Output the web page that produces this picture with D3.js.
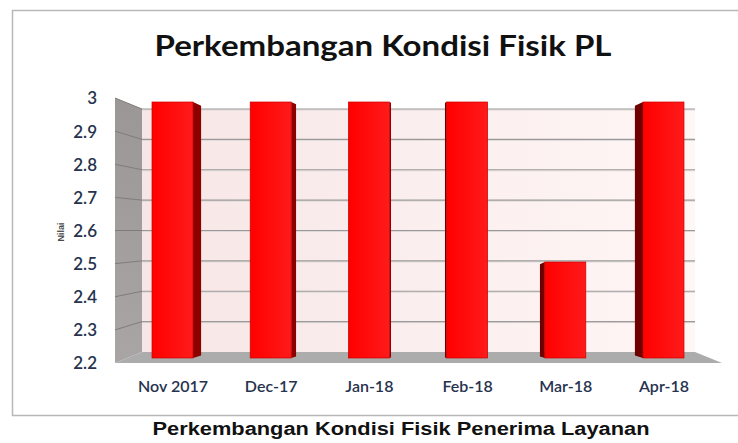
<!DOCTYPE html>
<html><head><meta charset="utf-8">
<script src="https://cdn.jsdelivr.net/npm/d3@7"></script>
<style>body{margin:0;background:#fff}svg{display:block}</style>
</head><body>
<svg id="c" width="738" height="443"></svg>
<script>
const categories = ["Nov 2017","Dec-17","Jan-18","Feb-18","Mar-18","Apr-18"];
const values = [3,3,3,3,2.5,3];
const yTicks = [2.2,2.3,2.4,2.5,2.6,2.7,2.8,2.9,3];
const tickLabels = ["2.2","2.3","2.4","2.5","2.6","2.7","2.8","2.9","3"];
const title = "Perkembangan Kondisi Fisik PL";
const yTitle = "Nilai";
const caption = "Perkembangan Kondisi Fisik Penerima Layanan";

const svg = d3.select("#c");
const defs = svg.append("defs");
const gWall = defs.append("linearGradient").attr("id","wall").attr("x1",0).attr("x2",1).attr("y1",0).attr("y2",0);
gWall.append("stop").attr("offset",0).attr("stop-color","#f7e6e6");
gWall.append("stop").attr("offset",1).attr("stop-color","#fff6f6");
const gLeft = defs.append("linearGradient").attr("id","left").attr("x1",0).attr("x2",0).attr("y1",0).attr("y2",1);
gLeft.append("stop").attr("offset",0).attr("stop-color","#9b9797");
gLeft.append("stop").attr("offset",1).attr("stop-color","#a9a5a5");
const gBar = defs.append("linearGradient").attr("id","bar").attr("x1",0).attr("x2",1).attr("y1",0).attr("y2",0);
gBar.append("stop").attr("offset",0).attr("stop-color","#ff0000");
gBar.append("stop").attr("offset",1).attr("stop-color","#ff1a1a");

// frame
svg.append("path").attr("d","M738,10.5 H12.5 V415.5 H738").attr("fill","none").attr("stroke","#b8b8b8").attr("stroke-width",1.5);

// geometry
const frontL = 115, backL = 142, backR = 695, frontR = 722;
const yFront = d3.scaleLinear().domain([2.2,3]).range([363,98]);
const yBack  = d3.scaleLinear().domain([2.2,3]).range([352,109]);
const yBar   = d3.scaleLinear().domain([2.2,3]).range([358,102]);
const x = d3.scalePoint().domain(categories).range([172.5,663.5]);
const barW = 41, vanish = 418, depthK = 0.033;

// back wall
svg.append("rect").attr("x",backL).attr("y",yBack(3)).attr("width",backR-backL).attr("height",yBack(2.2)-yBack(3)).attr("fill","url(#wall)");
// left wall
svg.append("polygon").attr("points",[[frontL,yFront(3)],[backL,yBack(3)],[backL,yBack(2.2)],[frontL,yFront(2.2)]].join(" ")).attr("fill","url(#left)");
// floor
svg.append("polygon").attr("points",[[frontL,yFront(2.2)],[backL,yBack(2.2)],[backR,yBack(2.2)],[frontR,yFront(2.2)]].join(" ")).attr("fill","#acacac");

// gridlines
const grid = svg.append("g");
yTicks.forEach(v=>{
  if (v===2.2) return;
  grid.append("line").attr("x1",backL).attr("x2",backR).attr("y1",yBack(v)+1).attr("y2",yBack(v)+1).attr("stroke","#e0d8d8").attr("stroke-width",1);
  grid.append("line").attr("x1",backL).attr("x2",backR).attr("y1",yBack(v)).attr("y2",yBack(v)).attr("stroke","#9a9a9a").attr("stroke-width",1.2);
  grid.append("line").attr("x1",frontL).attr("x2",backL).attr("y1",yFront(v)).attr("y2",yBack(v)).attr("stroke","#807c7c").attr("stroke-width",1);
});

// bars
const bars = svg.append("g");
categories.forEach((c,i)=>{
  const cx = x(c), x0 = cx-barW/2, x1 = cx+barW/2;
  const top = yBar(values[i]), bot = yBar(2.2);
  const side = (vanish-cx)*depthK;
  if (side>0.8) {
    bars.append("polygon").attr("points",[[x1,top],[x1+side,top+side*0.45],[x1+side,bot-side*0.3],[x1,bot]].join(" ")).attr("fill","#8c0000");
  } else if (side<-0.8) {
    bars.append("polygon").attr("points",[[x0,top],[x0+side,top-side*0.45],[x0+side,bot+side*0.3],[x0,bot]].join(" ")).attr("fill","#6e0000");
  }
  bars.append("rect").attr("x",x0).attr("y",top).attr("width",barW).attr("height",bot-top).attr("fill","url(#bar)").attr("stroke","#c80000").attr("stroke-width",0.7);
});

// y tick labels
const yAxis = d3.axisLeft(yFront).tickValues(yTicks).tickFormat((d,i)=>tickLabels[i]).tickSize(0).tickPadding(0);
const ya = svg.append("g").attr("transform","translate(97,0)").call(yAxis);
ya.select(".domain").remove();
ya.selectAll("text").attr("font-family","Lato, 'Open Sans', sans-serif").attr("font-size",17).attr("font-weight",600).attr("fill","#26324e").attr("dy","0.35em");

// x labels
const xAxis = d3.axisBottom(x).tickSize(0).tickPadding(0);
const xa = svg.append("g").attr("transform","translate(0,381)").call(xAxis);
xa.select(".domain").remove();
xa.selectAll("text").attr("font-family","Lato, 'Open Sans', sans-serif").attr("font-size",16).attr("font-weight",600).attr("fill","#26324e");

// y title
svg.append("text").attr("transform","translate(64,232) rotate(-90)").attr("text-anchor","middle")
  .attr("font-family","Liberation Sans, Arial, sans-serif").attr("font-size",9).attr("font-weight","bold").attr("fill","#4a4a4a").text(yTitle);

// title
svg.append("text").attr("x",383).attr("y",56).attr("text-anchor","middle")
  .attr("font-family","Lato, sans-serif").attr("font-size",28).attr("font-weight","bold").attr("fill","#111")
  .attr("textLength",457).attr("lengthAdjust","spacingAndGlyphs").text(title);

// caption
svg.append("text").attr("x",401).attr("y",435).attr("text-anchor","middle")
  .attr("font-family","Liberation Sans, Arial, sans-serif").attr("font-size",18).attr("font-weight","bold").attr("fill","#111")
  .attr("textLength",497).attr("lengthAdjust","spacingAndGlyphs").text(caption);
</script>
</body></html>
